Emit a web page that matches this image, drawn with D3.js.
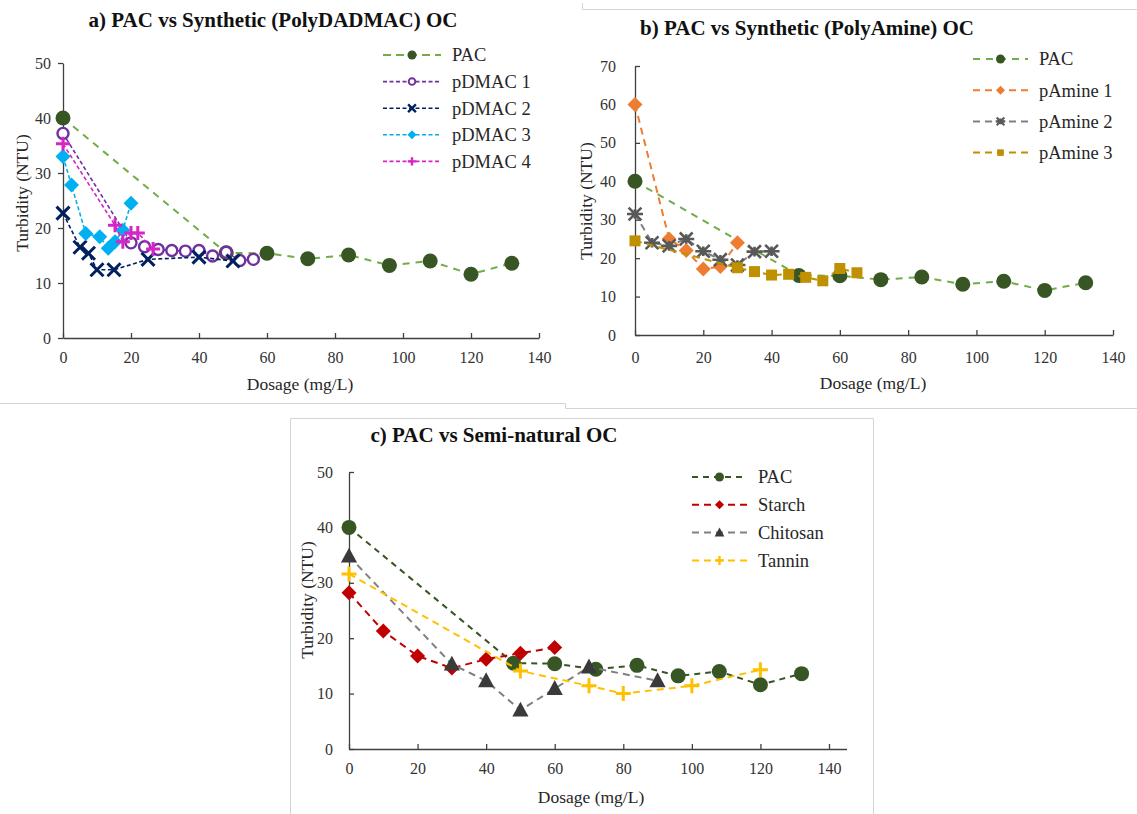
<!DOCTYPE html>
<html>
<head>
<meta charset="utf-8">
<script src="https://cdn.jsdelivr.net/npm/d3@7"></script>
<style>
  body { margin: 0; background: #fff; }
  svg, svg text { font-family: "Liberation Serif", "Times New Roman", serif; }
  .tick text { fill: #333; }
</style>
</head>
<body>
<svg width="1137" height="814"></svg>
<script>
// tick labels
var xTicks = [0, 20, 40, 60, 80, 100, 120, 140],
    yTicks50 = [0, 10, 20, 30, 40, 50],
    yTicks70 = [0, 10, 20, 30, 40, 50, 60, 70];

// PAC (same reference run in every panel)
var pacDose = [0, 48, 60, 72, 84, 96, 108, 120, 132],
    pacTurb = [40, 15.5, 15.4, 14.4, 15.1, 13.2, 14, 11.6, 13.6];

// a) PolyDADMAC
var pdmac1Dose = [0, 20, 24, 28, 32, 36, 40, 44, 48, 52, 56],
    pdmac1Turb = [37.2, 17.3, 16.6, 16.1, 15.9, 15.8, 15.9, 14.9, 15.6, 14.1, 14.3];
var pdmac2Dose = [0, 5, 7.5, 10, 15, 25, 40, 50],
    pdmac2Turb = [22.7, 16.5, 15.4, 12.4, 12.4, 14.3, 14.7, 14.0];
var pdmac3Dose = [0, 2.5, 6.7, 10.8, 13.3, 15.3, 17.6, 20],
    pdmac3Turb = [33, 27.8, 19, 18.4, 16.3, 17.5, 19.6, 24.5];
var pdmac4Dose = [0, 15.3, 17.6, 20, 22, 26.5],
    pdmac4Turb = [35.3, 20.5, 17.5, 19.1, 19.1, 16.2];

// b) PolyAmine
var pamine1Dose = [0, 10, 15, 20, 25, 30],
    pamine1Turb = [60, 25, 22, 17.2, 17.8, 24];
var pamine2Dose = [0, 5, 10, 15, 20, 25, 30, 35, 40],
    pamine2Turb = [31.5, 24, 23.2, 25, 21.8, 19.6, 18.2, 21.7, 21.8];
var pamine3Dose = [0, 30, 35, 40, 45, 50, 55, 60, 65],
    pamine3Turb = [24.5, 17.5, 16.5, 15.6, 15.8, 15, 14.1, 17.3, 16.2];

// c) semi-natural
var starchDose = [0, 10, 20, 30, 40, 50, 60],
    starchTurb = [28.2, 21.3, 16.8, 14.6, 16.2, 17.3, 18.3];
var chitosanDose = [0, 30, 40, 50, 60, 70, 90],
    chitosanTurb = [34.8, 15.3, 12.3, 7, 10.9, 14.8, 12.3];
var tanninDose = [0, 50, 70, 80, 100, 120],
    tanninTurb = [31.6, 14.1, 11.4, 10, 11.4, 14.3];

var svg = d3.select("svg");

// marker shapes, centred on 0,0
function markerPath(type, s) {
  switch (type) {
    case "circle":
    case "ring":
      return d3.symbol(d3.symbolCircle, Math.PI * s * s)();
    case "x":
      return "M" + (-s) + "," + (-s) + "L" + s + "," + s + "M" + (-s) + "," + s + "L" + s + "," + (-s);
    case "plus":
      return "M" + (-s) + ",0H" + s + "M0," + (-s) + "V" + s;
    case "star":
      var k = s * 0.8;
      return "M" + (-s) + ",0H" + s + "M" + (-k) + "," + (-k) + "L" + k + "," + k + "M" + (-k) + "," + k + "L" + k + "," + (-k) + "M0," + (-s * 0.6) + "V" + (s * 0.6);
    case "diamond":
      return "M0," + (-s) + "L" + s + ",0L0," + s + "L" + (-s) + ",0Z";
    case "square":
      return "M" + (-s) + "," + (-s) + "H" + s + "V" + s + "H" + (-s) + "Z";
    case "triangle":
      return "M0," + (-s) + "L" + (s * 0.95) + "," + (s * 0.75) + "L" + (-s * 0.95) + "," + (s * 0.75) + "Z";
  }
}

function styleMarker(sel, s) {
  var stroked = s.marker == "x" || s.marker == "plus" || s.marker == "star";
  sel.attr("fill", stroked ? "none" : (s.marker == "ring" ? "#fff" : s.mcolor))
     .attr("stroke", stroked || s.marker == "ring" ? s.mcolor : "none")
     .attr("stroke-width", s.mwidth || 0);
}

function drawPanel(p) {
  var g = svg.append("g");
  var x = d3.scaleLinear().domain([0, 140]).range(p.xr),
      y = d3.scaleLinear().domain([0, p.ymax]).range(p.yr);

  var xAxis = g.append("g")
      .attr("transform", "translate(0," + p.yr[0] + ")")
      .call(d3.axisBottom(x).tickValues(xTicks).tickSizeInner(-5).tickSizeOuter(0).tickPadding(p.xpad));
  if (p.xEnd) xAxis.select(".domain").attr("d", "M" + p.xr[0] + ",0.5H" + p.xEnd);

  var yAxis = g.append("g")
      .attr("transform", "translate(" + p.xr[0] + ",0)")
      .call(d3.axisLeft(y).tickValues(p.yTicks).tickSizeInner(p.yTick).tickSizeOuter(0).tickPadding(p.ypad));

  xAxis.attr("font-family", null).attr("font-size", null);
  yAxis.attr("font-family", null).attr("font-size", null);
  g.selectAll(".domain, .tick line").attr("stroke", "#404040").attr("stroke-width", 1.3);
  g.selectAll(".tick text").style("font-size", "16px");

  g.append("text")
      .attr("x", p.title[0]).attr("y", p.title[1])
      .attr("text-anchor", "middle")
      .style("font-size", "21px").style("font-weight", "bold")
      .attr("fill", "#111")
      .text(p.titleText);

  g.append("text")
      .attr("x", p.xTitle[0]).attr("y", p.xTitle[1])
      .attr("text-anchor", "middle")
      .style("font-size", "17.5px").attr("fill", "#262626")
      .text("Dosage (mg/L)");

  g.append("text")
      .attr("transform", "translate(" + p.yTitle[0] + "," + p.yTitle[1] + ") rotate(-90)")
      .attr("text-anchor", "middle").attr("dy", "0.35em")
      .style("font-size", "17.5px").attr("fill", "#262626")
      .text("Turbidity (NTU)");

  var line = d3.line()
      .x(function(d) { return x(d[0]); })
      .y(function(d) { return y(d[1]); });

  p.series.forEach(function(s) {
    var pts = d3.zip(s.dose, s.turb);
    g.append("path")
        .datum(pts)
        .attr("d", line)
        .attr("fill", "none")
        .attr("stroke", s.color)
        .attr("stroke-width", s.width)
        .attr("stroke-dasharray", s.dash);

    g.selectAll(null)
        .data(pts)
        .enter().append("path")
        .attr("transform", function(d) { return "translate(" + x(d[0]) + "," + y(d[1]) + ")"; })
        .attr("d", markerPath(s.marker, s.size))
        .call(styleMarker, s);
  });

  // legend
  var leg = g.selectAll(".legend")
      .data(p.series)
      .enter().append("g")
      .attr("class", "legend")
      .attr("transform", function(d, i) { return "translate(0," + (p.legY + i * p.legStep) + ")"; });

  leg.append("line")
      .attr("x1", p.legX[0]).attr("x2", p.legX[1])
      .attr("stroke", function(d) { return d.color; })
      .attr("stroke-width", function(d) { return d.width; })
      .attr("stroke-dasharray", function(d) { return d.legDash || d.dash; });

  leg.append("path")
      .attr("transform", "translate(" + ((p.legX[0] + p.legX[1]) / 2) + ",0)")
      .attr("d", function(d) { return markerPath(d.marker, d.size * 0.6); })
      .each(function(d) { d3.select(this).call(styleMarker, {marker: d.marker, mcolor: d.mcolor, mwidth: (d.mwidth || 0) * 0.8}); });

  leg.append("text")
      .attr("x", p.legX[1] + 11)
      .attr("dy", "0.35em")
      .style("font-size", "18.5px").attr("fill", "#262626")
      .text(function(d) { return d.name; });
}

// panel frames
svg.append("path").attr("d", "M582.5,3V9.5H1137").attr("fill", "none").attr("stroke", "#d4d4d4");
svg.append("path").attr("d", "M0,403.5H565.5V408.5H1137").attr("fill", "none").attr("stroke", "#d4d4d4");
svg.append("path").attr("d", "M290.5,814V418.5H873.5V814").attr("fill", "none").attr("stroke", "#d4d4d4");

drawPanel({
  titleText: "a) PAC vs Synthetic (PolyDADMAC) OC",
  title: [273, 27], xTitle: [300, 390], yTitle: [22, 193],
  xr: [63, 539], yr: [338, 63], ymax: 50, yTicks: yTicks50,
  yTick: 5, ypad: 7, xpad: 14,
  legX: [383, 441], legY: 55, legStep: 26.6,
  series: [
    {name: "PAC", dose: pacDose, turb: pacTurb, color: "#70AD47", width: 2, dash: "7,6", legDash: "8,5",
     marker: "circle", size: 7.5, mcolor: "#375623"},
    {name: "pDMAC 1", dose: pdmac1Dose, turb: pdmac1Turb, color: "#7030A0", width: 1.6, dash: "4,2.5",
     marker: "ring", size: 5.5, mcolor: "#7030A0", mwidth: 2.4},
    {name: "pDMAC 2", dose: pdmac2Dose, turb: pdmac2Turb, color: "#002060", width: 1.6, dash: "4,2.5",
     marker: "x", size: 6.5, mcolor: "#002060", mwidth: 3},
    {name: "pDMAC 3", dose: pdmac3Dose, turb: pdmac3Turb, color: "#00B0F0", width: 1.6, dash: "4,2.5",
     marker: "diamond", size: 7.5, mcolor: "#00B0F0"},
    {name: "pDMAC 4", dose: pdmac4Dose, turb: pdmac4Turb, color: "#D624C6", width: 1.6, dash: "4,2.5",
     marker: "plus", size: 7, mcolor: "#D624C6", mwidth: 3}
  ]
});

drawPanel({
  titleText: "b) PAC vs Synthetic (PolyAmine) OC",
  title: [807, 35], xTitle: [873, 389], yTitle: [586, 201],
  xr: [635, 1113], yr: [335, 66], ymax: 70, yTicks: yTicks70,
  yTick: -5, ypad: 19, xpad: 17,
  legX: [973, 1028], legY: 59, legStep: 31.2,
  series: [
    {name: "PAC", dose: pacDose, turb: pacTurb, color: "#70AD47", width: 2, dash: "7,6",
     marker: "circle", size: 7.5, mcolor: "#375623"},
    {name: "pAmine 1", dose: pamine1Dose, turb: pamine1Turb, color: "#ED7D31", width: 2, dash: "7,5",
     marker: "diamond", size: 7.5, mcolor: "#ED7D31"},
    {name: "pAmine 2", dose: pamine2Dose, turb: pamine2Turb, color: "#808080", width: 2, dash: "7,5",
     marker: "star", size: 8, mcolor: "#595959", mwidth: 2.6},
    {name: "pAmine 3", dose: pamine3Dose, turb: pamine3Turb, color: "#BF9000", width: 2, dash: "7,5",
     marker: "square", size: 5.5, mcolor: "#BF9000"}
  ]
});

drawPanel({
  titleText: "c) PAC vs Semi-natural OC",
  title: [494, 442], xTitle: [591, 803], yTitle: [307, 600],
  xr: [349, 829], yr: [749, 472], ymax: 50, yTicks: yTicks50, xEnd: 847,
  yTick: -5, ypad: 16, xpad: 14,
  legX: [692, 747], legY: 477, legStep: 27.8,
  series: [
    {name: "PAC", dose: pacDose, turb: pacTurb, color: "#375623", width: 2, dash: "6,5",
     marker: "circle", size: 7.5, mcolor: "#375623"},
    {name: "Starch", dose: starchDose, turb: starchTurb, color: "#C00000", width: 2, dash: "7,5",
     marker: "diamond", size: 7.5, mcolor: "#C00000"},
    {name: "Chitosan", dose: chitosanDose, turb: chitosanTurb, color: "#808080", width: 2, dash: "7,5",
     marker: "triangle", size: 8.5, mcolor: "#3A3A3A"},
    {name: "Tannin", dose: tanninDose, turb: tanninTurb, color: "#FFC000", width: 2, dash: "7,5",
     marker: "plus", size: 7.5, mcolor: "#FFC000", mwidth: 3}
  ]
});
</script>
</body>
</html>
